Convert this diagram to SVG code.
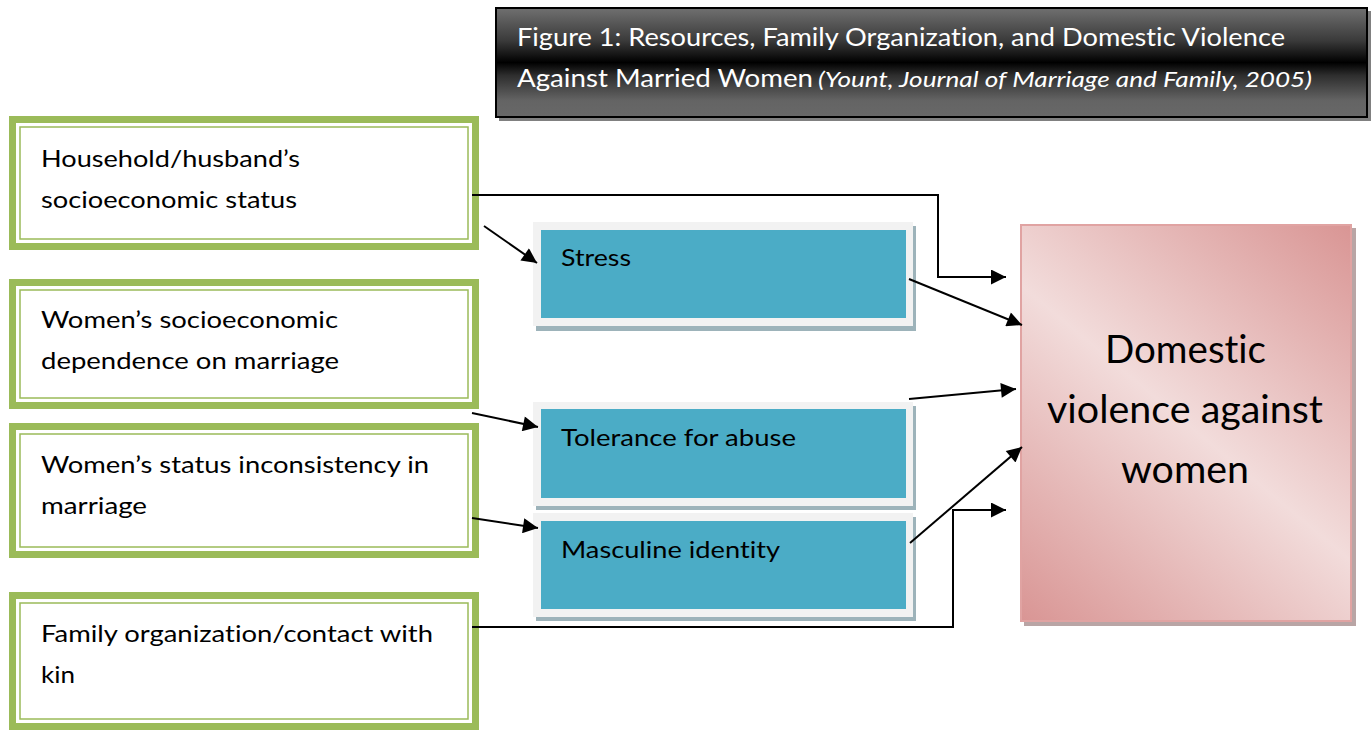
<svg xmlns="http://www.w3.org/2000/svg" width="1371" height="731" viewBox="0 0 1371 731">
  <defs>
    <linearGradient id="titleFill" x1="0" y1="0" x2="0" y2="1">
      <stop offset="0" stop-color="#707070"/>
      <stop offset="0.3" stop-color="#3a3a3a"/>
      <stop offset="0.5" stop-color="#000000"/>
      <stop offset="0.62" stop-color="#2e2e2e"/>
      <stop offset="0.85" stop-color="#646464"/>
      <stop offset="1" stop-color="#686868"/>
    </linearGradient>
    <linearGradient id="outcomeFill" gradientUnits="userSpaceOnUse" x1="1351" y1="224" x2="1020" y2="621">
      <stop offset="0" stop-color="#d99594"/>
      <stop offset="0.5" stop-color="#f2dcdb"/>
      <stop offset="1" stop-color="#d99594"/>
    </linearGradient>
    <marker id="arrow" viewBox="0 0 10 10" refX="10" refY="5" markerWidth="9" markerHeight="7.5" markerUnits="strokeWidth" orient="auto">
      <path d="M0,0 L10,5 L0,10 z" fill="#000"/>
    </marker>
  </defs>
  <style>
    .txt { font-family: Lato, "Open Sans", "Liberation Sans", sans-serif; fill: #000; font-variant-ligatures: none; }
    .green-outer { fill: #ffffff; stroke: #9bbb59; stroke-width: 7; }
    .green-inner { fill: none; stroke: #9bbb59; stroke-width: 1.5; }
    .frame { fill: #f2f2f2; }
    .frame-shadow { fill: #9db3ba; }
    .blue { fill: #4bacc6; }
    .src { font-size: 24px; }
    .med { font-size: 24px; }
    .conn { fill: none; stroke: #000; stroke-width: 2; }
  </style>
  <rect width="1371" height="731" fill="#ffffff"/>

  <!-- title banner -->
  <g id="title">
    <rect x="499" y="11" width="873" height="110" fill="#808080"/>
    <rect x="496" y="8" width="871" height="109" fill="url(#titleFill)" stroke="#000" stroke-width="2"/>
    <text class="txt" x="517" y="46" font-size="25" style="fill:#fff" textLength="768" lengthAdjust="spacingAndGlyphs">Figure 1: Resources, Family Organization, and Domestic Violence</text>
    <text class="txt" x="517" y="87" font-size="25" style="fill:#fff"><tspan textLength="296" lengthAdjust="spacingAndGlyphs">Against Married Women</tspan><tspan x="818" font-style="italic" font-size="22" textLength="494" lengthAdjust="spacingAndGlyphs">(Yount, Journal of Marriage and Family, 2005)</tspan></text>
  </g>

  <!-- source boxes -->
  <g id="household-ses">
    <rect class="green-outer" x="12.5" y="119.5" width="463" height="127"/>
    <rect class="green-inner" x="20" y="127" width="448" height="112"/>
    <text class="txt src" x="41" y="167" textLength="259" lengthAdjust="spacingAndGlyphs">Household/husband’s</text>
    <text class="txt src" x="41" y="208" textLength="256" lengthAdjust="spacingAndGlyphs">socioeconomic status</text>
  </g>
  <g id="women-dependence">
    <rect class="green-outer" x="12.5" y="282.5" width="463" height="123"/>
    <rect class="green-inner" x="20" y="290" width="448" height="108"/>
    <text class="txt src" x="41" y="328" textLength="297" lengthAdjust="spacingAndGlyphs">Women’s socioeconomic</text>
    <text class="txt src" x="41" y="369" textLength="298" lengthAdjust="spacingAndGlyphs">dependence on marriage</text>
  </g>
  <g id="status-inconsistency">
    <rect class="green-outer" x="12.5" y="426.5" width="463" height="128"/>
    <rect class="green-inner" x="20" y="434" width="448" height="113"/>
    <text class="txt src" x="41" y="473" textLength="388" lengthAdjust="spacingAndGlyphs">Women’s status inconsistency in</text>
    <text class="txt src" x="41" y="514" textLength="106" lengthAdjust="spacingAndGlyphs">marriage</text>
  </g>
  <g id="family-organization">
    <rect class="green-outer" x="12.5" y="595.5" width="463" height="131"/>
    <rect class="green-inner" x="20" y="603" width="448" height="116"/>
    <text class="txt src" x="41" y="642" textLength="392" lengthAdjust="spacingAndGlyphs">Family organization/contact with</text>
    <text class="txt src" x="41" y="683" textLength="34" lengthAdjust="spacingAndGlyphs">kin</text>
  </g>

  <!-- mediating boxes -->
  <g id="stress">
    <rect class="frame-shadow" x="536" y="226" width="380" height="105"/>
    <rect class="frame" x="533" y="222" width="380" height="104"/>
    <rect class="blue" x="541" y="230" width="365" height="88"/>
    <text class="txt med" x="561" y="266" textLength="70" lengthAdjust="spacingAndGlyphs">Stress</text>
  </g>
  <g id="tolerance">
    <rect class="frame-shadow" x="536" y="406" width="380" height="104"/>
    <rect class="frame" x="533" y="402" width="380" height="104"/>
    <rect class="blue" x="541" y="409" width="365" height="89"/>
    <text class="txt med" x="561" y="446" textLength="235" lengthAdjust="spacingAndGlyphs">Tolerance for abuse</text>
  </g>
  <g id="masculine">
    <rect class="frame-shadow" x="536" y="517" width="380" height="104"/>
    <rect class="frame" x="533" y="513" width="380" height="104"/>
    <rect class="blue" x="541" y="521" width="365" height="88"/>
    <text class="txt med" x="561" y="558" textLength="219" lengthAdjust="spacingAndGlyphs">Masculine identity</text>
  </g>

  <!-- outcome -->
  <g id="domestic-violence">
    <rect x="1024" y="228" width="332" height="398" fill="#a88e8e" opacity="0.8"/>
    <rect x="1021" y="225" width="330" height="396" fill="url(#outcomeFill)" stroke="#e0a3a2" stroke-width="2"/>
    <text class="txt" x="1185.5" y="363" font-size="38" text-anchor="middle" textLength="161" lengthAdjust="spacingAndGlyphs">Domestic</text>
    <text class="txt" x="1185" y="423" font-size="38" text-anchor="middle" textLength="276" lengthAdjust="spacingAndGlyphs">violence against</text>
    <text class="txt" x="1185" y="483" font-size="38" text-anchor="middle" textLength="128" lengthAdjust="spacingAndGlyphs">women</text>
  </g>

  <!-- connectors -->
  <g id="connectors">
    <polyline class="conn" points="472,195 938,195 938,277 1006,277" marker-end="url(#arrow)"/>
    <line class="conn" x1="484" y1="226" x2="537" y2="263" marker-end="url(#arrow)"/>
    <line class="conn" x1="909" y1="279" x2="1022" y2="325" marker-end="url(#arrow)"/>
    <line class="conn" x1="472" y1="413" x2="538" y2="427" marker-end="url(#arrow)"/>
    <line class="conn" x1="909" y1="399" x2="1016" y2="389" marker-end="url(#arrow)"/>
    <line class="conn" x1="472" y1="518" x2="538" y2="528" marker-end="url(#arrow)"/>
    <line class="conn" x1="910" y1="543" x2="1022" y2="447" marker-end="url(#arrow)"/>
    <polyline class="conn" points="472,627 953,627 953,510 1006,510" marker-end="url(#arrow)"/>
  </g>
</svg>
